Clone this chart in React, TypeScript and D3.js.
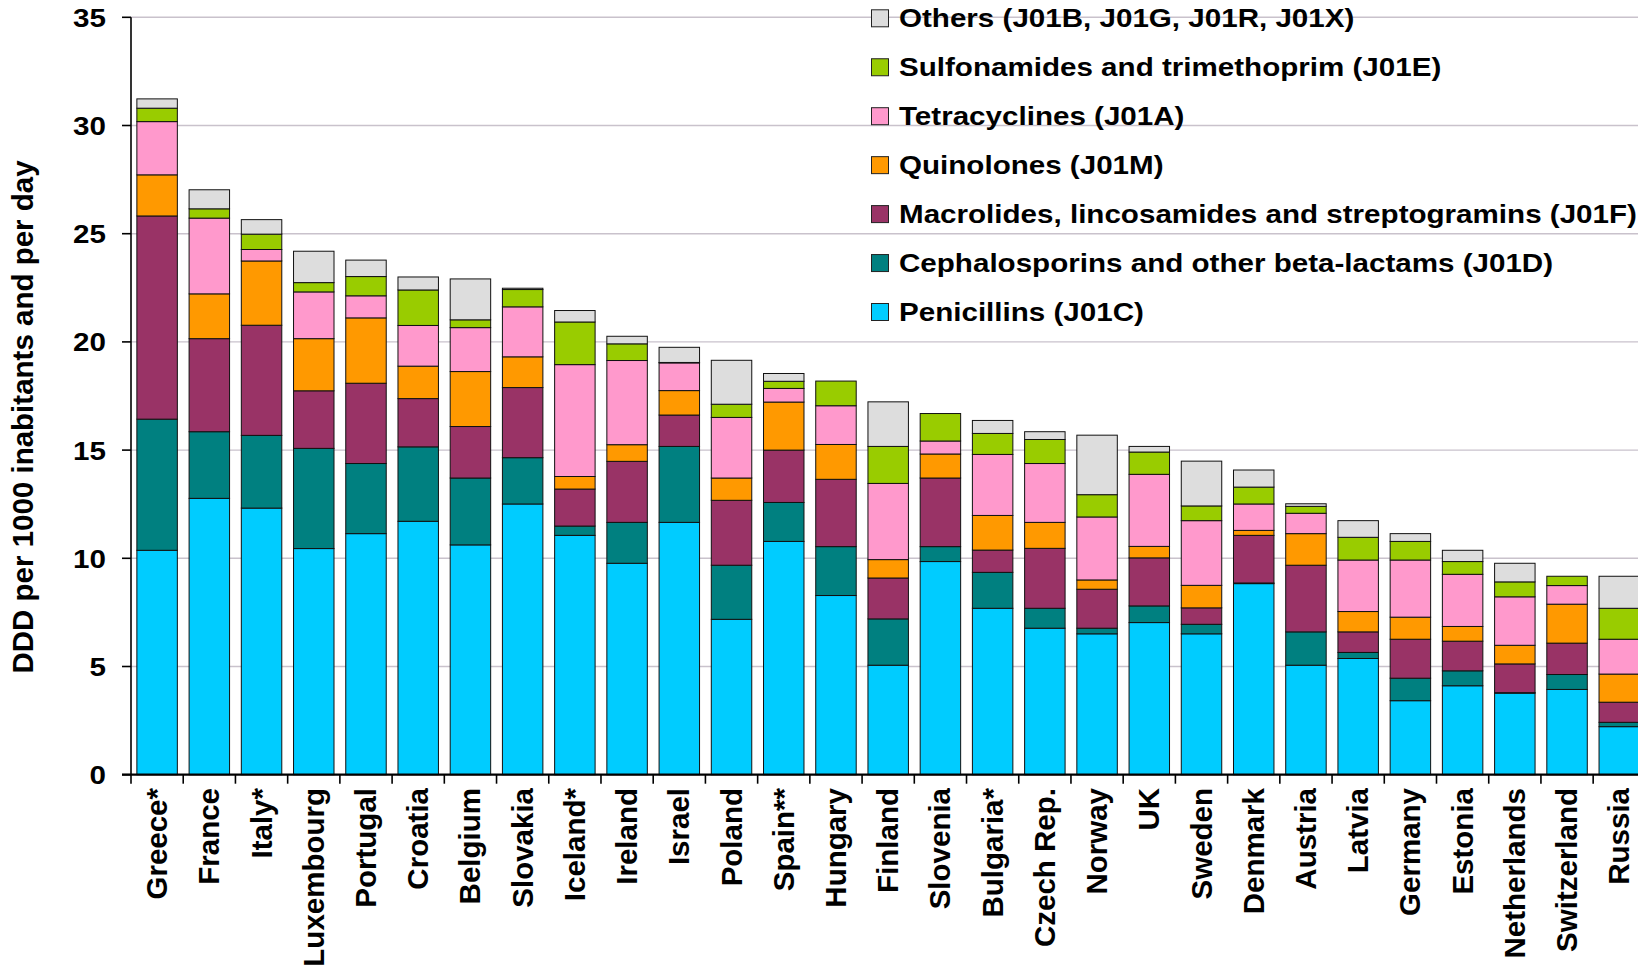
import React from "react";
import * as d3 from "d3";

const countries = [
  "Greece*", "France", "Italy*", "Luxembourg", "Portugal", "Croatia", "Belgium", "Slovakia",
  "Iceland*", "Ireland", "Israel", "Poland", "Spain**", "Hungary", "Finland", "Slovenia",
  "Bulgaria*", "Czech Rep.", "Norway", "UK", "Sweden", "Denmark", "Austria", "Latvia",
  "Germany", "Estonia", "Netherlands", "Switzerland", "Russia",
];

const penicillins = [10.37, 12.77, 12.32, 10.45, 11.14, 11.71, 10.62, 12.51, 11.06, 9.77, 11.66, 7.18, 10.78, 8.28, 5.06, 9.85, 7.69, 6.77, 6.51, 7.03, 6.51, 8.83, 5.06, 5.37, 3.42, 4.11, 3.77, 3.94, 2.22];
const cephalosporins = [6.06, 3.08, 3.36, 4.63, 3.24, 3.44, 3.09, 2.14, 0.43, 1.89, 3.51, 2.5, 1.8, 2.26, 2.14, 0.69, 1.66, 0.92, 0.26, 0.77, 0.44, 0.03, 1.54, 0.28, 1.04, 0.69, 0.02, 0.69, 0.2];
const macrolides = [9.39, 4.3, 5.09, 2.66, 3.71, 2.23, 2.38, 3.24, 1.71, 2.82, 1.45, 3.0, 2.42, 3.11, 1.89, 3.17, 1.03, 2.77, 1.8, 2.22, 0.76, 2.2, 3.08, 0.95, 1.8, 1.37, 1.33, 1.45, 0.93];
const quinolones = [1.9, 2.07, 2.97, 2.41, 3.02, 1.5, 2.54, 1.42, 0.58, 0.77, 1.13, 1.03, 2.22, 1.61, 0.85, 1.11, 1.6, 1.2, 0.43, 0.53, 1.04, 0.23, 1.46, 0.94, 1.02, 0.68, 0.86, 1.8, 1.3];
const tetracyclines = [2.46, 3.5, 0.53, 2.16, 1.02, 1.88, 2.03, 2.31, 5.17, 3.89, 1.28, 2.8, 0.63, 1.79, 3.52, 0.6, 2.82, 2.72, 2.91, 3.33, 2.99, 1.22, 0.94, 2.38, 2.64, 2.41, 2.24, 0.86, 1.61];
const sulfonamides = [0.62, 0.43, 0.71, 0.43, 0.89, 1.64, 0.36, 0.8, 1.97, 0.77, 0.02, 0.61, 0.33, 1.14, 1.71, 1.27, 0.97, 1.11, 1.03, 1.03, 0.68, 0.78, 0.32, 1.05, 0.86, 0.59, 0.69, 0.43, 1.43];
const others = [0.43, 0.88, 0.67, 1.45, 0.76, 0.6, 1.89, 0.06, 0.53, 0.35, 0.7, 2.03, 0.36, 0, 2.06, 0, 0.6, 0.36, 2.75, 0.26, 2.07, 0.79, 0.12, 0.77, 0.36, 0.52, 0.86, 0, 1.48];

const seriesKeys = ["pen", "ceph", "mac", "quin", "tet", "sulf", "oth"];
const seriesValues = [penicillins, cephalosporins, macrolides, quinolones, tetracyclines, sulfonamides, others];
const seriesNames = [
  "Penicillins (J01C)",
  "Cephalosporins and other beta-lactams (J01D)",
  "Macrolides, lincosamides and streptogramins (J01F)",
  "Quinolones (J01M)",
  "Tetracyclines (J01A)",
  "Sulfonamides and trimethoprim (J01E)",
  "Others (J01B, J01G, J01R, J01X)",
];
const seriesColors = ["#00ccff", "#008080", "#993366", "#ff9900", "#ff99cc", "#99cc00", "#dddddd"];

const yTicks = [0, 5, 10, 15, 20, 25, 30, 35];
const yTitle = "DDD per 1000 inabitants and per day";

const W = 1638;
const H = 971;
const FONT = "'Liberation Sans', Arial, Helvetica, sans-serif";

export default function App() {
  const x0 = 131;
  const step = 52.22;
  const x = d3
    .scaleBand<string>()
    .domain(countries)
    .range([x0, x0 + step * countries.length])
    .paddingInner(0.225)
    .paddingOuter(0.1125);
  const y = d3.scaleLinear().domain([0, 35]).range([774.7, 17.3]);

  const table = countries.map((c, i) => {
    const row: any = { country: c };
    seriesKeys.forEach((k, j) => (row[k] = seriesValues[j][i]));
    return row;
  });
  const stacked = d3.stack<any>().keys(seriesKeys)(table);

  const legendOrder = [6, 5, 4, 3, 2, 1, 0];

  return (
    <svg
      width={W}
      height={H}
      style={{ position: "absolute", left: 0, top: 0, background: "#fff" }}
      fontFamily={FONT}
      fontWeight="bold"
    >
      {/* gridlines */}
      {yTicks.filter((t) => t > 0).map((t) => (
        <line key={"g" + t} x1={x0} x2={W} y1={y(t)} y2={y(t)} stroke="#c9c2cc" strokeWidth={1.4} />
      ))}

      {/* bars */}
      {stacked.map((s, j) => (
        <g key={s.key} fill={seriesColors[j]}>
          {s.map((d, i) => {
            const h = y(d[0]) - y(d[1]);
            if (h <= 0) return null;
            return (
              <rect
                key={i}
                x={x(countries[i])}
                y={y(d[1])}
                width={x.bandwidth()}
                height={h}
                stroke="#111"
                strokeWidth={1}
              />
            );
          })}
        </g>
      ))}

      {/* y axis */}
      <line x1={x0} x2={x0} y1={y(35)} y2={y(0)} stroke="#000" strokeWidth={1.6} />
      {yTicks.map((t) => (
        <g key={"yt" + t}>
          <line x1={122} x2={x0} y1={y(t)} y2={y(t)} stroke="#000" strokeWidth={1.6} />
          <text
            transform={`translate(106,${y(t) + 9.4}) scale(1.16,1)`}
            textAnchor="end"
            fontSize={25.5}
            fill="#000"
          >
            {t}
          </text>
        </g>
      ))}

      {/* x axis */}
      <line x1={x0 - 9} x2={W} y1={y(0)} y2={y(0)} stroke="#000" strokeWidth={2.2} />
      {countries.map((c, i) => {
        const tx = x0 + i * step;
        return <line key={"xt" + i} x1={tx} x2={tx} y1={y(0)} y2={y(0) + 9} stroke="#000" strokeWidth={1.6} />;
      })}
      {countries.map((c) => {
        const cx = (x(c) as number) + x.bandwidth() / 2;
        return (
          <text
            key={"xl" + c}
            transform={`translate(${cx + 10},788) rotate(-90)`}
            textAnchor="end"
            fontSize={29.5}
            fill="#000"
          >
            {c}
          </text>
        );
      })}

      {/* y title */}
      <text
        transform={`translate(33,417) rotate(-90)`}
        textAnchor="middle"
        fontSize={29.5}
        fill="#000"
      >
        {yTitle}
      </text>

      {/* legend */}
      {legendOrder.map((j, r) => {
        const cy = 18.3 + r * 48.95;
        return (
          <g key={"lg" + j}>
            <rect x={871.5} y={cy - 8.5} width={17} height={17} fill={seriesColors[j]} stroke="#222" strokeWidth={1} />
            <text
              transform={`translate(899,${cy + 9}) scale(1.16,1)`}
              fontSize={25.5}
              fill="#000"
            >
              {seriesNames[j]}
            </text>
          </g>
        );
      })}
    </svg>
  );
}
